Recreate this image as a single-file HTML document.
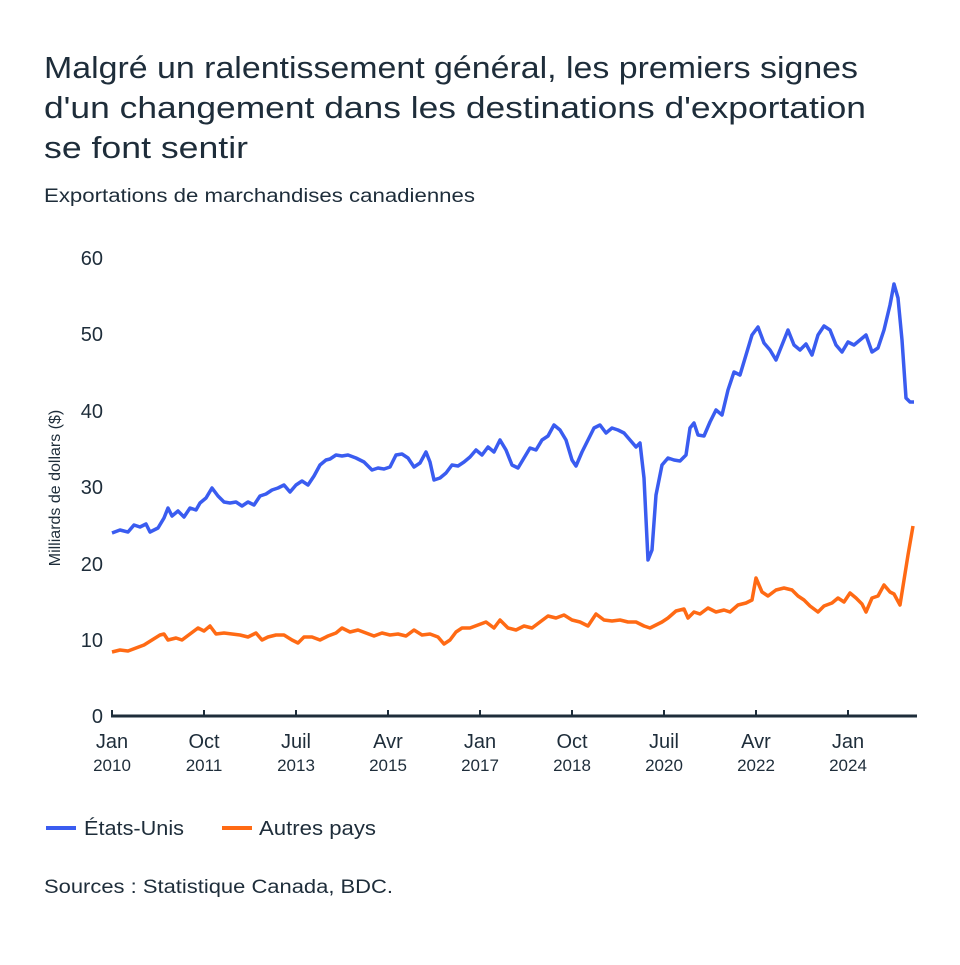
<!DOCTYPE html>
<html><head><meta charset="utf-8"><style>
body{margin:0;width:960px;height:960px;background:#fff;font-family:"Liberation Sans",sans-serif;color:#1e2d3a;overflow:hidden}
</style></head><body>
<svg width="960" height="960" xmlns="http://www.w3.org/2000/svg" font-family="Liberation Sans, sans-serif" fill="#1e2d3a">
<text x="44" y="78" font-size="31" textLength="814" lengthAdjust="spacingAndGlyphs">Malgré un ralentissement général, les premiers signes</text>
<text x="44" y="118" font-size="31" textLength="822" lengthAdjust="spacingAndGlyphs">d'un changement dans les destinations d'exportation</text>
<text x="44" y="158" font-size="31" textLength="204" lengthAdjust="spacingAndGlyphs">se font sentir</text>
<text x="44" y="202" font-size="19" textLength="431" lengthAdjust="spacingAndGlyphs">Exportations de marchandises canadiennes</text>
<g font-size="20" text-anchor="end">
<text x="103" y="265">60</text><text x="103" y="341">50</text><text x="103" y="418">40</text>
<text x="103" y="494">30</text><text x="103" y="571">20</text><text x="103" y="647">10</text><text x="103" y="723">0</text>
</g>
<text transform="translate(60,488) rotate(-90)" font-size="16" text-anchor="middle">Milliards de dollars ($)</text>
<line x1="111" y1="716" x2="917" y2="716" stroke="#1e2d3a" stroke-width="3"/>
<g stroke="#1e2d3a" stroke-width="2">
<line x1="112" y1="710" x2="112" y2="716"/><line x1="204" y1="710" x2="204" y2="716"/><line x1="296" y1="710" x2="296" y2="716"/><line x1="388" y1="710" x2="388" y2="716"/><line x1="480" y1="710" x2="480" y2="716"/><line x1="572" y1="710" x2="572" y2="716"/><line x1="664" y1="710" x2="664" y2="716"/><line x1="756" y1="710" x2="756" y2="716"/><line x1="848" y1="710" x2="848" y2="716"/>
</g>
<g font-size="20" text-anchor="middle">
<text x="112" y="748">Jan</text><text x="204" y="748">Oct</text><text x="296" y="748">Juil</text><text x="388" y="748">Avr</text><text x="480" y="748">Jan</text><text x="572" y="748">Oct</text><text x="664" y="748">Juil</text><text x="756" y="748">Avr</text><text x="848" y="748">Jan</text>
</g>
<g font-size="17" text-anchor="middle">
<text x="112" y="771">2010</text><text x="204" y="771">2011</text><text x="296" y="771">2013</text><text x="388" y="771">2015</text><text x="480" y="771">2017</text><text x="572" y="771">2018</text><text x="664" y="771">2020</text><text x="756" y="771">2022</text><text x="848" y="771">2024</text>
</g>
<polyline fill="none" stroke="#ff6a14" stroke-width="3.5" stroke-linejoin="round" points="112,652 120,650 128,651 136,648 144,645 152,640 160,635 164,634 168,640 176,638 182,640 190,634 198,628 204,631 210,626 216,634 224,633 232,634 240,635 248,637 256,633 262,640 268,637 276,635 284,635 292,640 298,643 304,637 312,637 320,640 328,636 336,633 342,628 350,632 358,630 366,633 374,636 382,633 390,635 398,634 406,636 414,630 422,635 430,634 438,637 444,644 450,640 456,632 462,628 470,628 478,625 486,622 494,628 500,620 508,628 516,630 524,626 532,628 540,622 548,616 556,618 564,615 572,620 580,622 588,626 596,614 604,620 612,621 620,620 628,622 636,622 644,626 650,628 656,625 662,622 668,618 676,611 684,609 688,618 694,612 700,614 708,608 716,612 724,610 730,612 738,605 746,603 752,600 756,578 762,592 768,596 776,590 784,588 792,590 798,596 804,600 810,606 818,612 824,606 832,603 838,598 844,602 850,593 856,598 862,604 866,612 872,598 878,596 884,585 890,592 894,594 900,605 904,580 908,555 913,526"/>
<polyline fill="none" stroke="#3a5cf0" stroke-width="3.5" stroke-linejoin="round" points="112,533 120,530 128,532 134,525 140,527 146,524 150,532 158,528 164,518 168,508 172,516 178,511 184,517 190,508 196,510 200,503 206,498 212,488 218,496 224,502 230,503 236,502 242,506 248,502 254,505 260,496 266,494 272,490 278,488 284,485 290,492 296,485 302,481 308,485 314,476 320,465 326,460 330,459 336,455 342,456 348,455 356,458 364,462 372,470 378,468 384,469 390,467 396,455 402,454 408,458 414,467 420,463 426,452 430,462 434,480 440,478 446,473 452,465 458,466 464,462 470,457 476,450 482,455 488,447 494,452 500,440 506,450 512,465 518,468 524,458 530,448 536,450 542,440 548,436 554,425 560,430 566,440 572,460 576,466 582,452 588,440 594,428 600,425 606,433 612,428 618,430 624,433 630,440 636,447 640,443 644,478 648,560 652,550 656,495 662,465 668,458 674,460 680,461 686,455 690,428 694,423 698,435 704,436 710,422 716,410 722,415 728,390 734,372 740,375 746,355 752,335 758,327 764,343 770,350 776,360 782,345 788,330 794,345 800,350 806,344 812,355 818,335 824,326 830,330 836,345 842,352 848,342 854,345 860,340 866,335 872,352 878,348 884,330 890,305 894,284 898,298 902,340 906,398 910,402 914,402"/>
<line x1="46" y1="828" x2="76" y2="828" stroke="#3a5cf0" stroke-width="4"/>
<text x="84" y="835" font-size="20" textLength="100" lengthAdjust="spacingAndGlyphs">États-Unis</text>
<line x1="222" y1="828" x2="252" y2="828" stroke="#ff6a14" stroke-width="4"/>
<text x="259" y="835" font-size="20" textLength="117" lengthAdjust="spacingAndGlyphs">Autres pays</text>
<text x="44" y="893" font-size="19" textLength="349" lengthAdjust="spacingAndGlyphs">Sources : Statistique Canada, BDC.</text>
</svg>
</body></html>
